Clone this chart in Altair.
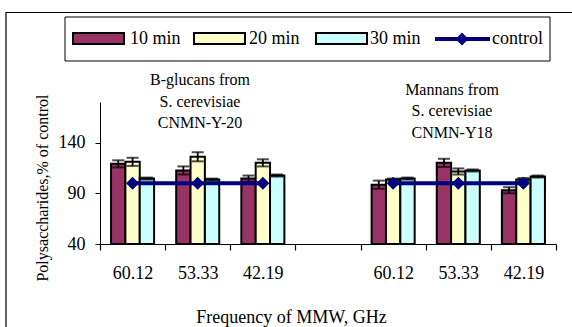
import altair as alt
import pandas as pd

# ---------------- data ----------------
slots = ["g1", "g2", "g3", "gap", "m1", "m2", "m3"]
slot_labels = ["60.12", "53.33", "42.19", "", "60.12", "53.33", "42.19"]
series = ["10 min", "20 min", "30 min"]
series_colors = ["#993366", "#FFFFCC", "#CCFFFF"]
control_label = "control"
control_color = "#000080"

bar_slots = ["g1", "g2", "g3", "m1", "m2", "m3"]
val_10 = [119, 112.5, 104.5, 98.5, 120, 93]
err_10 = [3.5, 4, 3, 4, 4, 3]
val_20 = [121, 126, 120, 103.5, 111.5, 103.5]
err_20 = [4, 4.5, 3.5, 1, 3, 1.5]
val_30 = [104.5, 103.5, 107.5, 104.5, 112.5, 106.5]
err_30 = [1, 1, 1, 1, 1, 1]

control_slots = ["g1", "g2", "g3", "m1", "m2", "m3"]
control_group = ["glucans", "glucans", "glucans", "mannans", "mannans", "mannans"]
control_vals = [100, 100, 100, 100, 100, 100]

annotations = ["B-glucans from\nS. cerevisiae\nCNMN-Y-20",
               "Mannans from\nS. cerevisiae\nCNMN-Y18"]

y_title = "Polysaccharides,% of control"
x_title = "Frequency of MMW, GHz"
y_min, y_max = 40, 180

# ---------------- tables ----------------
rows = []
for vals, errs, s in [(val_10, err_10, series[0]), (val_20, err_20, series[1]), (val_30, err_30, series[2])]:
    for sl, v, e in zip(bar_slots, vals, errs):
        rows.append({"slot": sl, "series": s, "value": v, "lo": v - e, "hi": v + e})
bars_df = pd.DataFrame(rows)
ctrl_df = pd.DataFrame({"slot": control_slots, "group": control_group, "value": control_vals})

# layout (pixel positions relative to plot origin)
ann_pos = [(100, -22), (352, -12.5)]
leg_sw_x = [(-27, 24), (94, 145), (216, 267)]
leg_tx_x = [30, 149, 270]
cleg_line_x = (335, 390)
cleg_pt_x = 362
cleg_tx_x = 392
LEG_Y = -63

FONT = "Liberation Serif"

label_expr = ("[" + ",".join("'%s'" % l for l in slot_labels) + "][indexof(["
              + ",".join("'%s'" % s for s in slots) + "], datum.value)]")

x_scale = alt.Scale(domain=slots, paddingInner=0, paddingOuter=0)
x_axis = alt.Axis(title=x_title, labelExpr=label_expr, tickBand="extent", labelAngle=0,
                  labelFontSize=18, labelColor="black", labelPadding=14, labelFont=FONT,
                  tickSize=6, tickColor="black", domainColor="black", tickWidth=1.2, domainWidth=1.2,
                  titleFontSize=18, titleFontWeight="normal", titleColor="black", titleFont=FONT,
                  titleX=191, titleY=78, titleBaseline="alphabetic",
                  titleAlign="center", zindex=1)
x_enc = alt.X("slot:N", sort=slots, scale=x_scale, axis=x_axis)

y_scale = alt.Scale(domain=[y_min, y_max], nice=False, zero=False)
y_axis = alt.Axis(title=y_title, values=[40, 90, 140], grid=False, labelFontSize=18,
                  labelColor="black", labelPadding=10, tickSize=5, tickColor="black", labelFont=FONT,
                  domainColor="black", titleFontSize=16, titleFontWeight="normal", titleFont=FONT,
                  titleColor="black", titleX=-53, titleY=85.5, titleAngle=-90,
                  titleBaseline="alphabetic", titleAlign="center", zindex=1)
y_enc = alt.Y("value:Q", scale=y_scale, axis=y_axis)

color_scale = alt.Scale(domain=series, range=series_colors)
xoff = alt.XOffset("series:N", sort=series, scale=alt.Scale(paddingOuter=0.77, paddingInner=0))

base = alt.Chart(bars_df)

bars = base.mark_bar(stroke="black", strokeWidth=2).encode(
    x=x_enc, xOffset=xoff, y=y_enc, y2=alt.Y2(datum=y_min),
    fill=alt.Fill("series:N", scale=color_scale, legend=None),
)
err_rule = base.mark_rule(color="black", strokeWidth=1.8).encode(
    x=x_enc, xOffset=xoff, y=alt.Y("lo:Q", scale=y_scale, axis=y_axis), y2="hi:Q",
)
cap_hi = base.mark_tick(color="black", orient="horizontal", size=12, thickness=2).encode(
    x=x_enc, xOffset=xoff, y=alt.Y("hi:Q", scale=y_scale, axis=y_axis),
)
cap_lo = base.mark_tick(color="black", orient="horizontal", size=12, thickness=2).encode(
    x=x_enc, xOffset=xoff, y=alt.Y("lo:Q", scale=y_scale, axis=y_axis),
)
ctrl_line = alt.Chart(ctrl_df).mark_line(color=control_color, strokeWidth=4).encode(
    x=x_enc, y=y_enc, detail="group:N",
)
ctrl_pts = alt.Chart(ctrl_df).mark_point(shape="diamond", size=169, filled=True,
                                         color=control_color, opacity=1).encode(
    x=x_enc, y=y_enc,
)

one = pd.DataFrame({"a": [0]})

layers = []
# outer border (frame of the chart area)
layers.append(alt.Chart(one).mark_rect(fill="transparent", stroke="black", strokeWidth=1.2).encode(
    x=alt.value(-94), x2=alt.value(490), y=alt.value(-89.5), y2=alt.value(240)))
layers += [bars, err_rule, cap_hi, cap_lo, ctrl_line, ctrl_pts]

# annotations
for txt, (px, py) in zip(annotations, ann_pos):
    layers.append(alt.Chart(one).mark_text(text=txt, font=FONT, fontSize=16, lineBreak="\n",
                                           lineHeight=21.5, align="center", baseline="middle",
                                           color="black").encode(x=alt.value(px), y=alt.value(py)))

# legend
layers.append(alt.Chart(one).mark_rect(fill="white", stroke="black", strokeWidth=1).encode(
    x=alt.value(-35), x2=alt.value(450), y=alt.value(-85), y2=alt.value(-41)))
for s, c, (x0, x1), tx in zip(series, series_colors, leg_sw_x, leg_tx_x):
    layers.append(alt.Chart(one).mark_rect(fill=c, stroke="black", strokeWidth=2).encode(
        x=alt.value(x0), x2=alt.value(x1), y=alt.value(LEG_Y - 6), y2=alt.value(LEG_Y + 5)))
    layers.append(alt.Chart(one).mark_text(text=s, font=FONT, fontSize=18, align="left",
                                           baseline="middle", color="black").encode(
        x=alt.value(tx), y=alt.value(LEG_Y)))
layers.append(alt.Chart(one).mark_rule(color=control_color, strokeWidth=4).encode(
    x=alt.value(cleg_line_x[0]), x2=alt.value(cleg_line_x[1]), y=alt.value(LEG_Y)))
layers.append(alt.Chart(one).mark_point(shape="diamond", size=169, filled=True, color=control_color,
                                        opacity=1).encode(x=alt.value(cleg_pt_x), y=alt.value(LEG_Y)))
layers.append(alt.Chart(one).mark_text(text=control_label, font=FONT, fontSize=18, align="left",
                                       baseline="middle", color="black").encode(
    x=alt.value(cleg_tx_x), y=alt.value(LEG_Y)))

chart = alt.layer(*layers).properties(
    width=456, height=142,
    autosize=alt.AutoSizeParams(type="none"),
    padding={"left": 100, "top": 102, "right": 16, "bottom": 83},
).configure(font=FONT).configure_view(stroke="transparent")

chart.save("out.html", embed_options={"renderer": "svg", "actions": False})
